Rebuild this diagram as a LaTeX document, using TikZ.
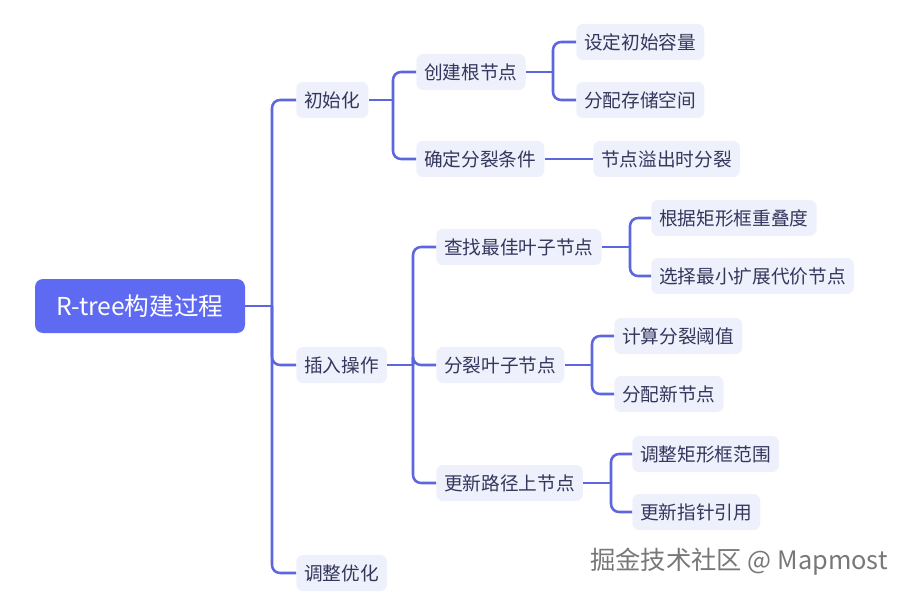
\documentclass[tikz,border=0pt]{standalone}
\usepackage{fontspec}
\setmainfont{Noto Sans CJK SC}
\definecolor{linec}{RGB}{92,102,222}
\definecolor{rootc}{RGB}{94,106,242}
\definecolor{nodefill}{RGB}{238,240,252}
\definecolor{textc}{RGB}{52,54,92}
\definecolor{markc}{RGB}{120,120,120}
\tikzset{
  rootbox/.style={fill=rootc, text=white, rounded corners=6pt, minimum width=157.5pt, minimum height=40.5pt, font=\fontsize{18.5}{20}\selectfont},
  topic/.style={fill=nodefill, text=textc, rounded corners=5pt, minimum height=27pt, inner xsep=6pt, anchor=west, font=\fontsize{14}{16}\selectfont},
  conn/.style={draw=linec, line width=1.9pt, rounded corners=6pt},
}
\begin{document}
\begin{tikzpicture}[x=0.75pt, y=-0.75pt]
\useasboundingbox (0,0) rectangle (906,595);
% nodes
\node[rootbox] (root) at (140,306) {R-tree构建过程};
\node[topic] (n1) at (296,100) {初始化};
\node[topic] (n2) at (296,365) {插入操作};
\node[topic] (n3) at (296,573) {调整优化};
\node[topic] (n11) at (416,72) {创建根节点};
\node[topic] (n12) at (416,159) {确定分裂条件};
\node[topic] (n111) at (576,42) {设定初始容量};
\node[topic] (n112) at (576,100) {分配存储空间};
\node[topic] (n121) at (593,159) {节点溢出时分裂};
\node[topic] (n21) at (436,247) {查找最佳叶子节点};
\node[topic] (n22) at (436,365) {分裂叶子节点};
\node[topic] (n23) at (436,483) {更新路径上节点};
\node[topic] (n211) at (651,218) {根据矩形框重叠度};
\node[topic] (n212) at (651,276) {选择最小扩展代价节点};
\node[topic] (n221) at (614,336) {计算分裂阈值};
\node[topic] (n222) at (614,394) {分配新节点};
\node[topic] (n231) at (632,454) {调整矩形框范围};
\node[topic] (n232) at (632,512) {更新指针引用};
% trunk coordinates
\coordinate (t0) at (272,306);
\coordinate (t1) at (393,100);
\coordinate (t11) at (553,72);
\coordinate (t2) at (413,365);
\coordinate (t21) at (630,247);
\coordinate (t22) at (592,365);
\coordinate (t23) at (611,483);
% connectors
\draw[conn] (root.east) -- (t0);
\draw[conn] (t0) |- (n1.west);
\draw[conn] (t0) |- (n2.west);
\draw[conn] (t0) |- (n3.west);
\draw[conn] (n1.east) -- (t1);
\draw[conn] (t1) |- (n11.west);
\draw[conn] (t1) |- (n12.west);
\draw[conn] (n11.east) -- (t11);
\draw[conn] (t11) |- (n111.west);
\draw[conn] (t11) |- (n112.west);
\draw[conn] (n12.east) -- (n121.west);
\draw[conn] (n2.east) -- (t2);
\draw[conn] (t2) |- (n21.west);
\draw[conn] (t2) |- (n22.west);
\draw[conn] (t2) |- (n23.west);
\draw[conn] (n21.east) -- (t21);
\draw[conn] (t21) |- (n211.west);
\draw[conn] (t21) |- (n212.west);
\draw[conn] (n22.east) -- (t22);
\draw[conn] (t22) |- (n221.west);
\draw[conn] (t22) |- (n222.west);
\draw[conn] (n23.east) -- (t23);
\draw[conn] (t23) |- (n231.west);
\draw[conn] (t23) |- (n232.west);
% watermark
\node[anchor=west, text=markc, font=\fontsize{19}{21}\selectfont, inner sep=0pt] (mark) at (590,562) {掘金技术社区 @ Mapmost};
\end{tikzpicture}
\end{document}
